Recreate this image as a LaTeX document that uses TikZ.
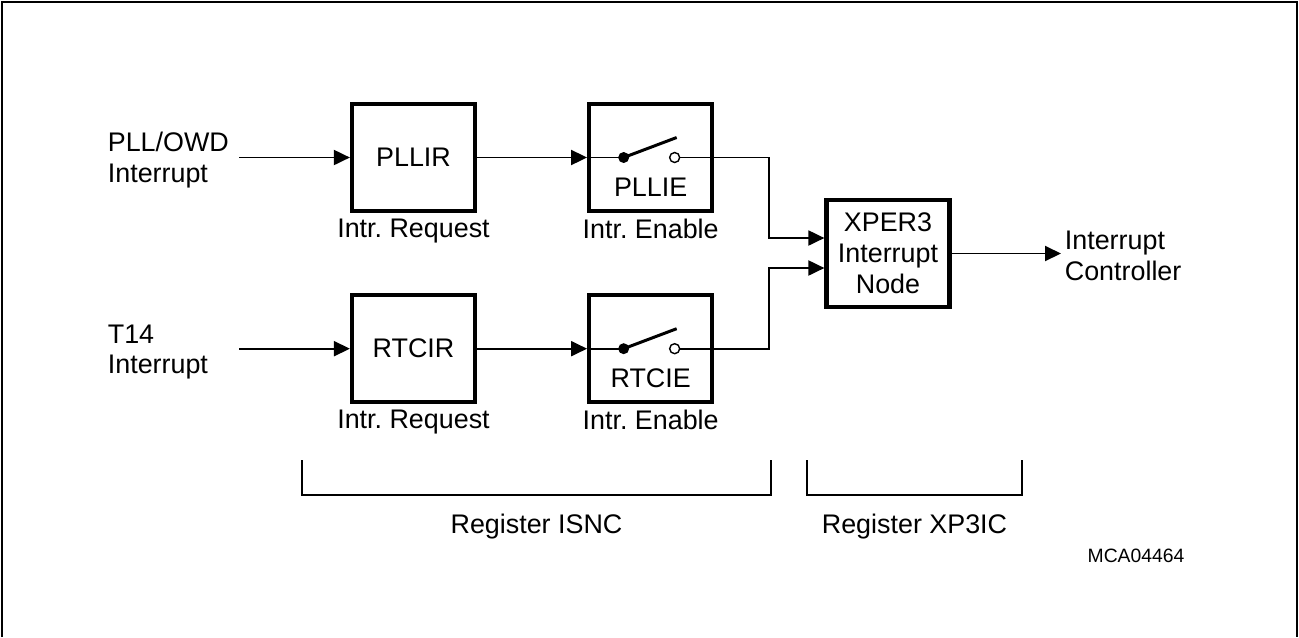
\documentclass[tikz,border=0pt]{standalone}
\usepackage{fontspec}
\setmainfont{Liberation Sans}
\usetikzlibrary{positioning,arrows.meta}
\frenchspacing

\tikzset{
  regbox/.style={draw, line width=2.4pt, minimum width=2.46cm, minimum height=2.14cm, align=center, inner sep=0pt},
  sig/.style={line width=1.1pt},
  arr/.style={sig, -{Triangle[length=0.32cm,width=0.3cm]}},
  lbl/.style={inner sep=2pt, align=left},
  brk/.style={line width=1.1pt},
}

\begin{document}
\begin{tikzpicture}[x=0.02cm, y=-0.02cm, font=\fontsize{15.3}{17.6}\selectfont, node distance=2.2cm]
    \useasboundingbox (0,0) rectangle (1299,637);
    \draw[line width=1.2pt] (2,637) -- (2,2) -- (1297,2) -- (1297,637);

    % registers
    \node[regbox] (PLLIR) at (413.5,157.5) {PLLIR};
    \node[regbox, right=of PLLIR] (PLLIE) {};
    \node[regbox, below=1.6cm of PLLIR] (RTCIR) {RTCIR};
    \node[regbox, right=of RTCIR] (RTCIE) {};
    \node[regbox] (XPER3) at (888,253.5) {XPER3\\Interrupt\\Node};

    \node at ([yshift=-0.6cm]PLLIE.center) {PLLIE};
    \node at ([yshift=-0.6cm]RTCIE.center) {RTCIE};

    \node[below=0pt of PLLIR] {Intr. Request};
    \node[below=0pt of PLLIE] {Intr. Enable};
    \node[below=0pt of RTCIR] {Intr. Request};
    \node[below=0pt of RTCIE] {Intr. Enable};

    % sources and target
    \node[lbl, anchor=west] (pllsrc) at (104,160) {PLL/OWD\\Interrupt};
    \node[lbl, anchor=west] (t14src) at (104,352) {T14\\Interrupt};
    \node[lbl, anchor=west] (ctrl) at (1061,256) {Interrupt\\Controller};
    \coordinate (pllin) at (239,157.5);
    \coordinate (t14in) at (RTCIR.west -| pllin);

    % switches
    \foreach \sw in {PLLIE,RTCIE} {
        \draw[sig] (\sw.west) -- ([xshift=-0.54cm]\sw.center);
        \fill ([xshift=-0.54cm]\sw.center) circle (0.11cm);
        \draw[line width=1.7pt] ([xshift=-0.54cm]\sw.center) -- ([xshift=0.52cm,yshift=0.4cm]\sw.center);
        \draw[line width=0.8pt] ([xshift=0.48cm]\sw.center) circle (0.1cm);
        \draw[sig] ([xshift=0.58cm]\sw.center) -- (\sw.east);
    }

    \draw[arr] (pllin) -- (PLLIR.west);
    \draw[arr] (t14in) -- (RTCIR.west);
    \draw[arr] (PLLIR) -- (PLLIE);
    \draw[arr] (RTCIR) -- (RTCIE);
    \draw[arr] (PLLIE.east) -- ++(55,0) |- ([yshift=0.31cm]XPER3.west);
    \draw[arr] (RTCIE.east) -- ++(55,0) |- ([yshift=-0.29cm]XPER3.west);
    \draw[arr] (XPER3.east) -- (XPER3.east -| ctrl.west);

    % register brackets
    \draw[brk] (302,460) -- (302,495) -- (771,495) -- (771,460);
    \draw[brk] (807,460) -- (807,495) -- (1022,495) -- (1022,460);
    \node (isnc) at (536.5,527) {Register ISNC};
    \node (xp3ic) at (914.5,527) {Register XP3IC};
    \node[font=\fontsize{11}{13}\selectfont] (mca) at (1136,556) {MCA04464};
\end{tikzpicture}
\end{document}
